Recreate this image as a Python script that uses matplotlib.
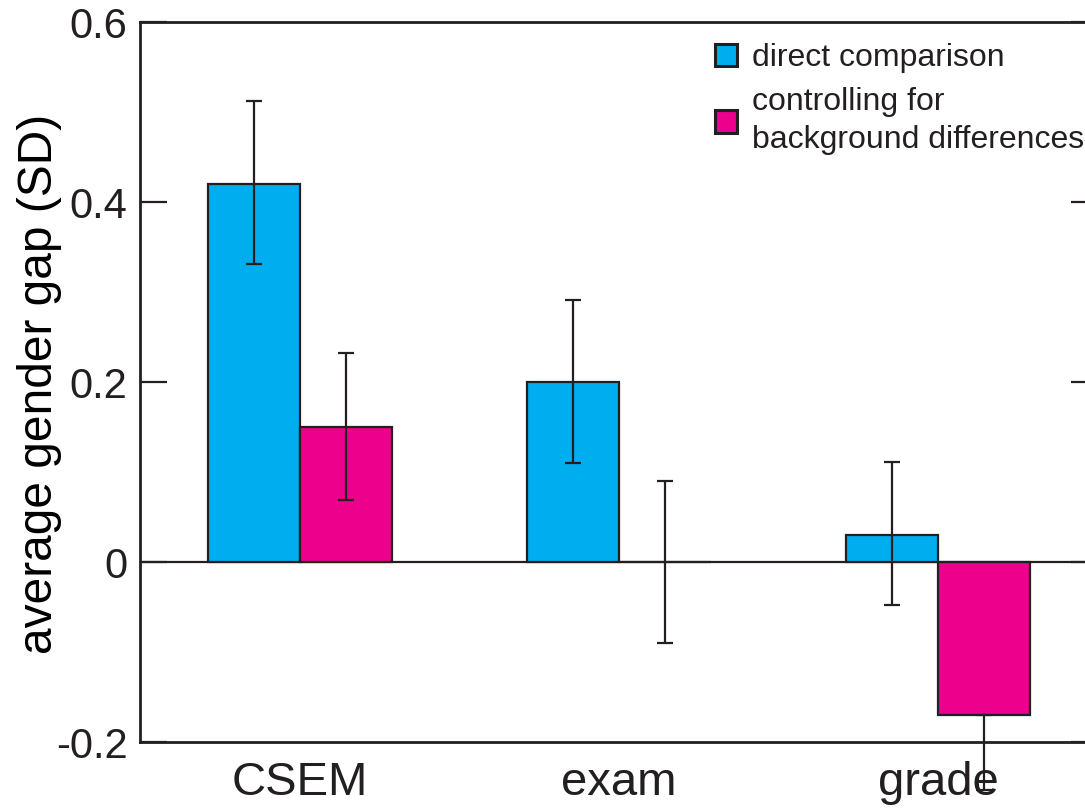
import matplotlib
matplotlib.use("Agg")
import matplotlib.pyplot as plt
import numpy as np

categories = ["CSEM", "exam", "grade"]
direct = [0.42, 0.20, 0.03]
direct_lo = [0.331, 0.110, -0.048]
direct_hi = [0.512, 0.291, 0.111]
controlled = [0.15, 0.0, -0.17]
controlled_lo = [0.069, -0.090, -0.253]
controlled_hi = [0.232, 0.090, -0.170]
yticks = [-0.2, 0, 0.2, 0.4, 0.6]
yticklabels = ["-0.2", "0", "0.2", "0.4", "0.6"]
labels = ["direct comparison", "controlling for\nbackground differences"]

BLUE = "#00AEEF"
PINK = "#EC008C"
DARK = "#231f20"

plt.rcParams['font.family'] = ['Liberation Sans', 'DejaVu Sans']
plt.rcParams['text.color'] = DARK

fig = plt.figure(figsize=(10.85, 8.1), dpi=100)
W, H = 1085, 810
ax = fig.add_axes([140 / W, (H - 742) / H, 958 / W, 720 / H])

x = np.arange(len(categories))
w = 0.288

def err(vals, lo, hi):
    v = np.array(vals); return np.vstack([v - np.array(lo), np.array(hi) - v])

b1 = ax.bar(x - w / 2, direct, w, color=BLUE, edgecolor=DARK, linewidth=1.6, zorder=2, label=labels[0])
b2 = ax.bar(x + w / 2, controlled, w, color=PINK, edgecolor=DARK, linewidth=1.6, zorder=2, label=labels[1])
ax.axhline(0, color=DARK, lw=1.6, zorder=1)
for xs, vals, lo, hi in [(x - w / 2, direct, direct_lo, direct_hi), (x + w / 2, controlled, controlled_lo, controlled_hi)]:
    eb = ax.errorbar(xs, vals, yerr=err(vals, lo, hi), fmt='none', ecolor=DARK, elinewidth=1.6,
                     capsize=5.8, capthick=1.6, zorder=3)
    for art in eb.get_children():
        art.set_clip_on(False)

ax.set_xlim(-0.5, 2.5)
ax.set_ylim(-0.2, 0.6)
ax.set_yticks(yticks)
ax.set_yticklabels(yticklabels, fontsize=30)
ax.set_xticks(x)
ax.set_xticklabels(categories, fontsize=34)
ax.tick_params(axis='x', length=0, pad=14, colors=DARK)
ax.tick_params(axis='y', direction='in', length=19.5, width=1.6, pad=9, colors=DARK, right=True)
for s in ax.spines.values():
    s.set_linewidth(2.0)
    s.set_color(DARK)
ax.set_ylabel("average gender gap (SD)", fontsize=34.5)
ax.yaxis.set_label_coords((62 - 140) / 958, 0.498)

leg = ax.legend(handles=[b1, b2], labels=labels, loc='upper left',
                bbox_to_anchor=(715 / W, (H - 43) / H), bbox_transform=fig.transFigure,
                frameon=False, fontsize=23, handlelength=0.7, handleheight=0.7,
                handletextpad=0.45, labelspacing=0.45, borderpad=0, borderaxespad=0)
for t in leg.get_texts():
    t.set_linespacing(1.32)
for p in leg.get_patches():
    p.set_linewidth(2.2)

fig.savefig("out.png", dpi=100)
